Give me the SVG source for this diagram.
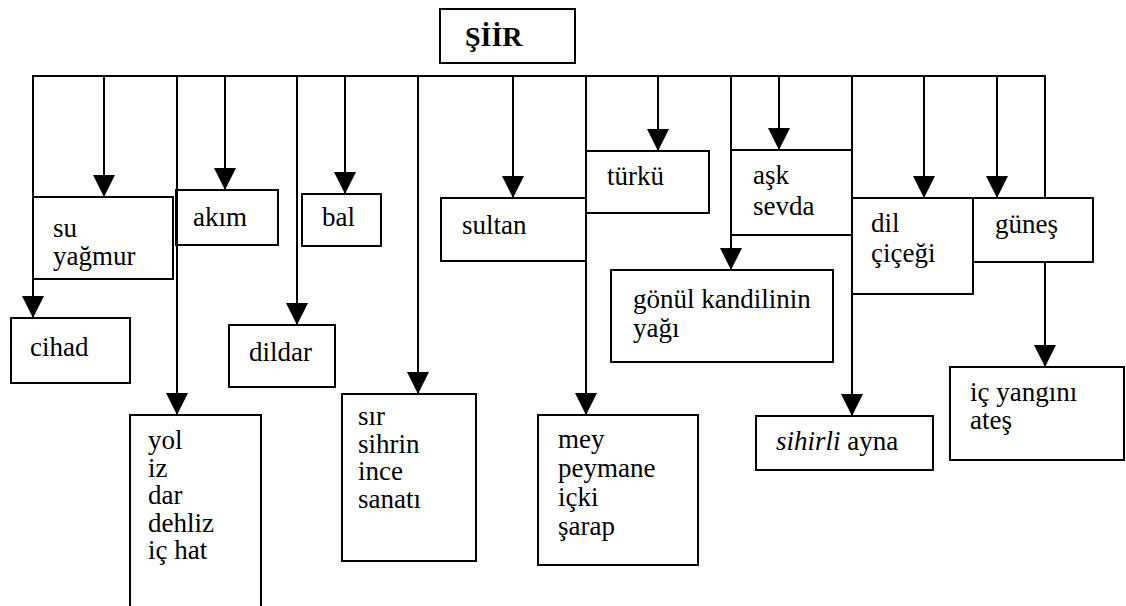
<svg xmlns="http://www.w3.org/2000/svg" width="1126" height="606" viewBox="0 0 1126 606">
  <style>
    .box { fill: #fff; stroke: #000; stroke-width: 2; }
    .open { fill: none; stroke: #000; stroke-width: 2; }
    .wire { fill: none; stroke: #000; stroke-width: 2; }
    .arr { marker-end: url(#head); }
    .lbl { font-family: "Liberation Serif", "Times New Roman", serif; font-size: 27px; fill: #000; }
    .title { font-weight: bold; font-size: 28px; }
    .it { font-style: italic; }
  </style>
  <defs>
    <marker id="head" markerUnits="userSpaceOnUse" markerWidth="22" markerHeight="22" viewBox="0 0 22 22" refX="22" refY="11" orient="auto">
      <path d="M0,0 L22,11 L0,22 Z" fill="#000"/>
    </marker>
  </defs>
  <rect width="1126" height="606" fill="#fff"/>

  <!-- nodes; some connectors later run along their edges -->
  <g class="lbl">
    <g id="siir">
      <rect class="box" x="440" y="9" width="135" height="54"/>
      <text class="title" x="465" y="46">ŞİİR</text>
    </g>
    <g id="su-yagmur">
      <rect class="box" x="33" y="197" width="140" height="82"/>
      <text x="53" y="237">su</text>
      <text x="53" y="265">yağmur</text>
    </g>
    <g id="akim">
      <rect class="box" x="176" y="190" width="102" height="55"/>
      <text x="193" y="226">akım</text>
    </g>
    <g id="bal">
      <rect class="box" x="302" y="194" width="79" height="52"/>
      <text x="322" y="226">bal</text>
    </g>
    <g id="cihad">
      <rect class="box" x="11" y="318" width="119" height="65"/>
      <text x="30" y="356">cihad</text>
    </g>
    <g id="dildar">
      <rect class="box" x="229" y="325" width="106" height="62"/>
      <text x="249" y="361">dildar</text>
    </g>
    <g id="sultan">
      <rect class="box" x="441" y="198" width="145" height="63"/>
      <text x="462" y="234">sultan</text>
    </g>
    <g id="turku">
      <rect class="box" x="586" y="151" width="123" height="62"/>
      <text x="607" y="185">türkü</text>
    </g>
    <g id="ask-sevda">
      <rect class="box" x="731" y="150" width="121" height="85"/>
      <text x="753" y="184">aşk</text>
      <text x="753" y="215">sevda</text>
    </g>
    <g id="gonul">
      <rect class="box" x="611" y="270" width="222" height="92"/>
      <text x="633" y="308">gönül kandilinin</text>
      <text x="633" y="337">yağı</text>
    </g>
    <g id="dil-cicegi">
      <rect class="box" x="852" y="198" width="121" height="96"/>
      <text x="871" y="232">dil</text>
      <text x="871" y="262">çiçeği</text>
    </g>
    <g id="gunes">
      <rect class="box" x="973" y="198" width="120" height="64"/>
      <text x="995" y="233">güneş</text>
    </g>
    <g id="ic-yangini">
      <rect class="box" x="950" y="367" width="174" height="93"/>
      <text x="970" y="401">iç yangını</text>
      <text x="970" y="429">ateş</text>
    </g>
    <g id="sihirli-ayna">
      <rect class="box" x="756" y="416" width="177" height="54"/>
      <text x="776" y="450"><tspan class="it">sihirli</tspan> ayna</text>
    </g>
    <g id="yol">
      <!-- box left open at the bottom edge -->
      <path class="open" d="M130,606 V415 H261 V606"/>
      <text x="148" y="449">yol</text>
      <text x="148" y="476.5">iz</text>
      <text x="148" y="504">dar</text>
      <text x="148" y="531.5">dehliz</text>
      <text x="148" y="559">iç hat</text>
    </g>
    <g id="sir">
      <rect class="box" x="342" y="394" width="134" height="167"/>
      <text x="358" y="425">sır</text>
      <text x="358" y="452.5">sihrin</text>
      <text x="358" y="480">ince</text>
      <text x="358" y="507.5">sanatı</text>
    </g>
    <g id="mey">
      <rect class="box" x="538" y="415" width="160" height="150"/>
      <text x="558" y="448">mey</text>
      <text x="558" y="477">peymane</text>
      <text x="558" y="506">içki</text>
      <text x="558" y="535">şarap</text>
    </g>
  </g>

  <g id="connectors">
    <!-- distribution bar under the title -->
    <line class="wire" x1="32" y1="76" x2="1046" y2="76"/>
    <!-- drops from the bar -->
    <line class="wire arr" x1="33" y1="76" x2="33" y2="318"/>
    <line class="wire arr" x1="104" y1="76" x2="104" y2="197"/>
    <line class="wire arr" x1="177" y1="76" x2="177" y2="415"/>
    <line class="wire arr" x1="225" y1="76" x2="225" y2="190"/>
    <line class="wire arr" x1="297" y1="76" x2="297" y2="325"/>
    <line class="wire arr" x1="345" y1="76" x2="345" y2="194"/>
    <line class="wire arr" x1="418" y1="76" x2="418" y2="394"/>
    <line class="wire arr" x1="513" y1="76" x2="513" y2="198"/>
    <line class="wire arr" x1="586" y1="76" x2="586" y2="415"/>
    <line class="wire arr" x1="658" y1="76" x2="658" y2="151"/>
    <line class="wire arr" x1="731" y1="76" x2="731" y2="270"/>
    <line class="wire arr" x1="779" y1="76" x2="779" y2="150"/>
    <line class="wire arr" x1="852" y1="76" x2="852" y2="416"/>
    <line class="wire arr" x1="924" y1="76" x2="924" y2="198"/>
    <line class="wire arr" x1="997" y1="76" x2="997" y2="198"/>
    <line class="wire" x1="1045" y1="76" x2="1045" y2="198"/>
    <!-- güneş down to iç yangını -->
    <line class="wire arr" x1="1045" y1="262" x2="1045" y2="367"/>
  </g>
</svg>
